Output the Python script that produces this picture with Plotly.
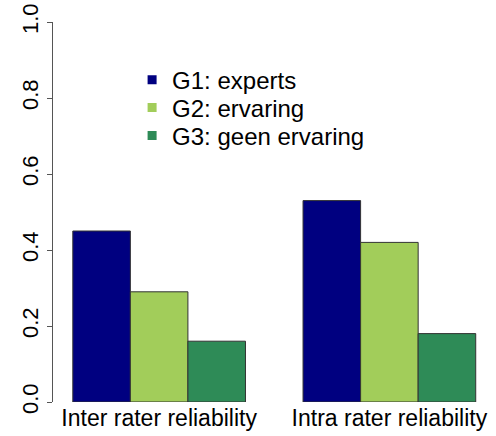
import plotly.graph_objects as go

# 데이터
categories = ["Inter rater reliability", "Intra rater reliability"]
groups = ["G1: experts", "G2: ervaring", "G3: geen ervaring"]
g1_values = [0.45, 0.53]
g2_values = [0.29, 0.42]
g3_values = [0.16, 0.18]
colors = ["#000080", "#A2CD5A", "#2E8B57"]
y_ticks = [0.0, 0.2, 0.4, 0.6, 0.8, 1.0]

font_name = "Liberation Sans, Arial, sans-serif"

# 범례 하나씩 따로 위치 지정 (줄 간격 맞추기)
legend_names = ["legend", "legend2", "legend3"]
legend_y = [0.847, 0.774, 0.700]

fig = go.Figure()
for name, vals, col, lg in zip(groups, [g1_values, g2_values, g3_values], colors, legend_names):
    # 막대
    fig.add_trace(go.Bar(x=categories, y=vals, name=name, showlegend=False,
                         marker=dict(color=col, line=dict(color="#333333", width=1))))
    # 범례용 사각형
    fig.add_trace(go.Scatter(x=[None], y=[None], mode="markers", name=name,
                             legend=lg,
                             marker=dict(symbol="square", size=9, color=col)))

legend_style = dict(x=0.181, xanchor="left", yanchor="middle",
                    bgcolor="rgba(0,0,0,0)", font=dict(size=24))

fig.update_layout(
    width=496, height=436,
    margin=dict(l=53, r=6, t=22, b=34),
    paper_bgcolor="white", plot_bgcolor="white",
    barmode="group", bargap=0.25, bargroupgap=0,
    font=dict(family=font_name, size=23, color="black"),
    legend=dict(y=legend_y[0], **legend_style),
    legend2=dict(y=legend_y[1], **legend_style),
    legend3=dict(y=legend_y[2], **legend_style),
    xaxis=dict(range=[-0.461, 1.437], showline=False, showgrid=False,
               ticks="", tickfont=dict(size=23), automargin=False),
    yaxis=dict(range=[0, 1], tickvals=y_ticks,
               ticktext=[f"{v:.1f}" for v in y_ticks],
               showgrid=False, zeroline=False, showline=True,
               linecolor="#555555", linewidth=1,
               ticks="outside", ticklen=5, tickcolor="#555555",
               tickangle=-90, tickfont=dict(size=22), automargin=False,
               ticklabeloverflow="allow"),
)

# body 기본 margin 제거
fig.write_html("out.html", config={"displayModeBar": False},
               post_script="document.body.style.margin='0';")
